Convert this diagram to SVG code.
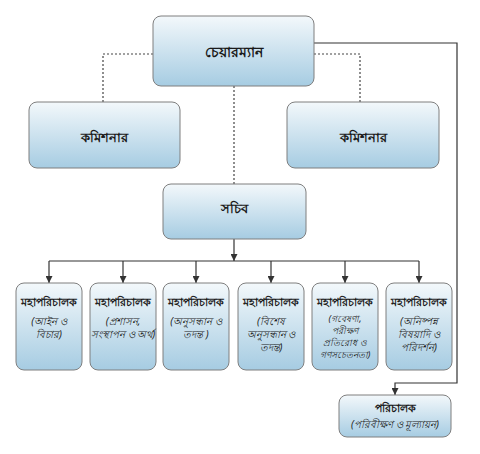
<svg xmlns="http://www.w3.org/2000/svg" width="480" height="454" viewBox="0 0 480 454">
<style>
.box{fill:url(#g);stroke:#7f7f7f;stroke-width:1}
.t{font-family:"Noto Sans","Liberation Sans",sans-serif;font-weight:bold;fill:#1a1a1a;text-anchor:middle}
.s{font-family:"Noto Sans","Liberation Sans",sans-serif;font-style:italic;fill:#1a1a1a;text-anchor:middle;font-size:10px}
.s2{font-size:9px}
.ln{fill:none;stroke:#333;stroke-width:1.2}
.dt{fill:none;stroke:#444;stroke-width:1.2;stroke-dasharray:2 2}
</style>
<defs>
<linearGradient id="g" x1="0" y1="0" x2="0" y2="1">
<stop offset="0" stop-color="#f3f8fb"/>
<stop offset="1" stop-color="#a6cce2"/>
</linearGradient>
<marker id="a" viewBox="0 0 10 10" refX="10" refY="5" markerWidth="7" markerHeight="7" orient="auto" markerUnits="userSpaceOnUse">
<path d="M0,0 L10,5 L0,10 z" fill="#333"/>
</marker>
</defs>
<rect width="480" height="454" fill="#fff"/>
<g id="connectors">
<path class="dt" d="M153,54 H103 V102"/>
<path class="dt" d="M314,54 H360 V102"/>
<path class="dt" d="M234,86 V184"/>
<path class="ln" d="M314,43 H457 V383 H395 V395" marker-end="url(#a)"/>
<path class="ln" d="M234,239 V261" marker-end="url(#a)"/>
<path class="ln" d="M49,261 H419"/>
<path class="ln" d="M49,261 V283" marker-end="url(#a)"/>
<path class="ln" d="M123,261 V283" marker-end="url(#a)"/>
<path class="ln" d="M196,261 V283" marker-end="url(#a)"/>
<path class="ln" d="M271,261 V283" marker-end="url(#a)"/>
<path class="ln" d="M345,261 V283" marker-end="url(#a)"/>
<path class="ln" d="M419,261 V283" marker-end="url(#a)"/>
</g>
<g id="chairman"><rect class="box" x="153" y="16" width="161" height="70" rx="8"/><text class="t" x="234" y="57" font-size="14">চেয়ারম্যান</text></g>
<g id="commissioner1"><rect class="box" x="29" y="102" width="151" height="66" rx="8"/><text class="t" x="104" y="142" font-size="13">কমিশনার</text></g>
<g id="commissioner2"><rect class="box" x="287" y="102" width="152" height="66" rx="8"/><text class="t" x="363" y="142" font-size="13">কমিশনার</text></g>
<g id="secretary"><rect class="box" x="163" y="184" width="143" height="55" rx="8"/><text class="t" x="234" y="213" font-size="13">সচিব</text></g>
<g id="dg1"><rect class="box" x="16" y="283" width="66" height="87" rx="8"/><text class="t" x="49" y="306" font-size="10.5">মহাপরিচালক</text><text class="s" x="49" y="325">(আইন ও</text><text class="s" x="49" y="338">বিচার)</text></g>
<g id="dg2"><rect class="box" x="90" y="283" width="66" height="87" rx="8"/><text class="t" x="123" y="306" font-size="10.5">মহাপরিচালক</text><text class="s" x="123" y="325">(প্রশাসন,</text><text class="s" x="123" y="338">সংস্থাপন ও অর্থ)</text></g>
<g id="dg3"><rect class="box" x="163" y="283" width="66" height="87" rx="8"/><text class="t" x="196" y="306" font-size="10.5">মহাপরিচালক</text><text class="s" x="196" y="325">(অনুসন্ধান ও</text><text class="s" x="196" y="338">তদন্ত )</text></g>
<g id="dg4"><rect class="box" x="238" y="283" width="66" height="87" rx="8"/><text class="t" x="271" y="306" font-size="10.5">মহাপরিচালক</text><text class="s" x="271" y="325">(বিশেষ</text><text class="s" x="271" y="338">অনুসন্ধান ও</text><text class="s" x="271" y="351">তদন্ত)</text></g>
<g id="dg5"><rect class="box" x="312" y="283" width="66" height="87" rx="8"/><text class="t" x="345" y="306" font-size="10.5">মহাপরিচালক</text><text class="s s2" x="345" y="322">(গবেষণা,</text><text class="s s2" x="345" y="334">পরীক্ষণ</text><text class="s s2" x="345" y="346">প্রতিরোধ ও</text><text class="s s2" x="345" y="358">গণসচেতনতা)</text></g>
<g id="dg6"><rect class="box" x="386" y="283" width="66" height="87" rx="8"/><text class="t" x="419" y="306" font-size="10.5">মহাপরিচালক</text><text class="s" x="419" y="325">(অনিষ্পন্ন</text><text class="s" x="419" y="338">বিষয়াদি ও</text><text class="s" x="419" y="351">পরিদর্শন)</text></g>
<g id="director"><rect class="box" x="339" y="395" width="112" height="42" rx="8"/><text class="t" x="395" y="412" font-size="11">পরিচালক</text><text class="s" x="395" y="428">(পরিবীক্ষণ ও মূল্যায়ন)</text></g>
</svg>
